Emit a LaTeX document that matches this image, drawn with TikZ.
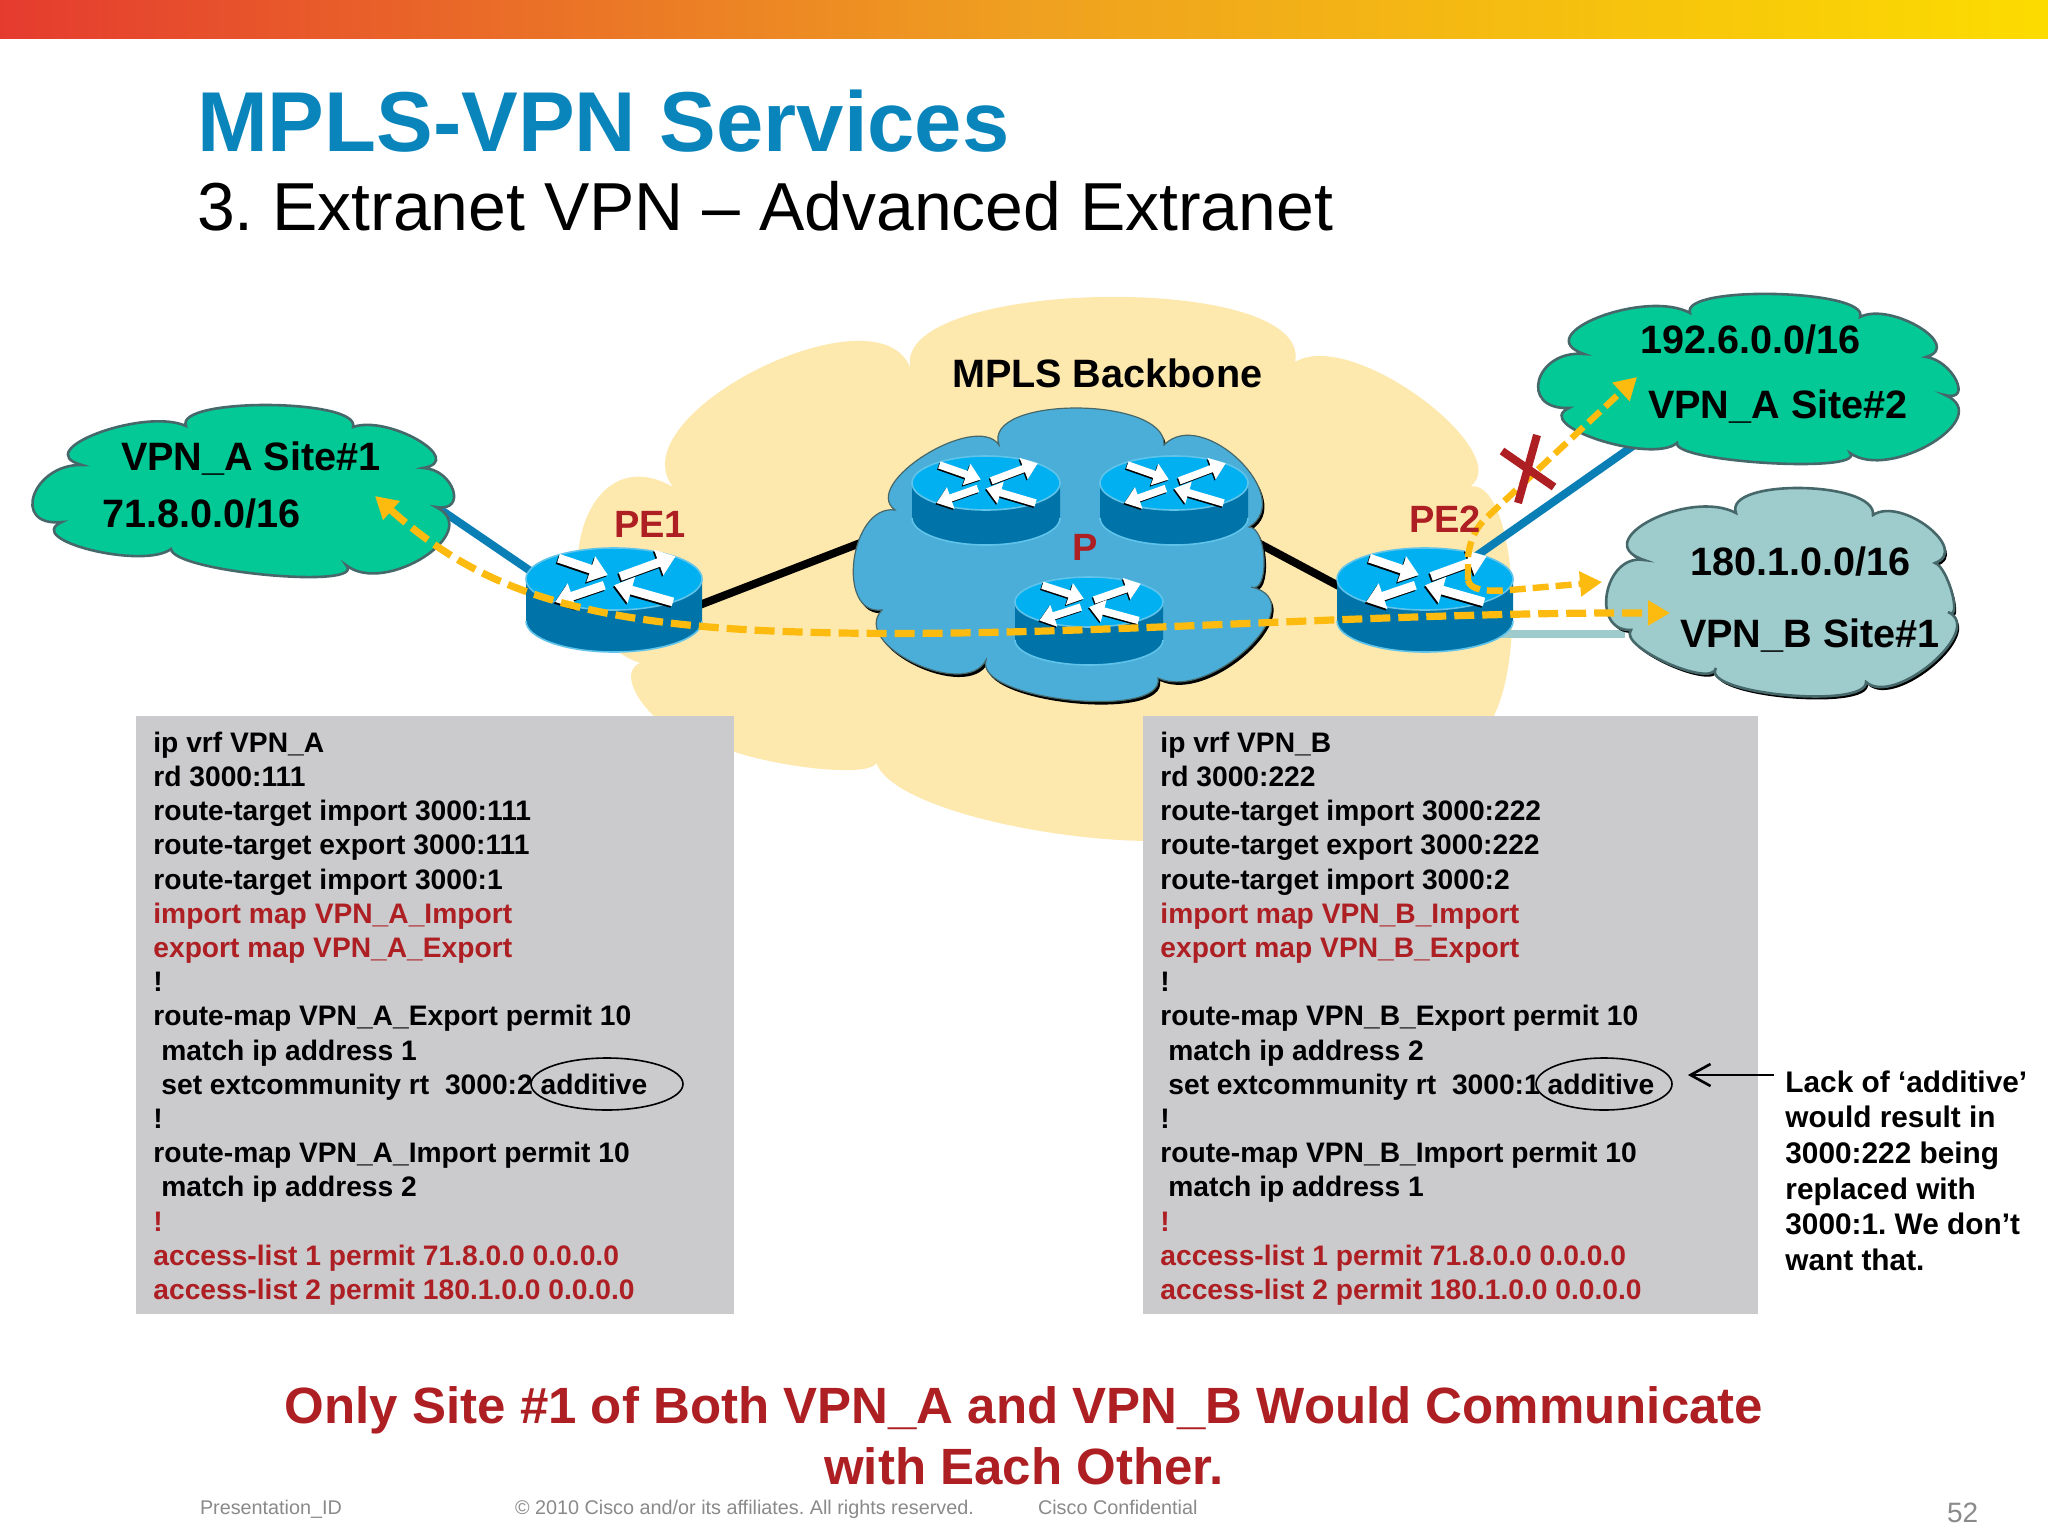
\documentclass[tikz,border=0pt]{standalone}
\usepackage{fontspec}
\setmainfont{Liberation Sans}
\usetikzlibrary{arrows.meta,shapes.geometric}
\definecolor{ciscoblue}{HTML}{0A85BC}
\definecolor{redtxt}{HTML}{AE1F23}
\definecolor{ygcloud}{HTML}{FDE8AE}
\definecolor{grcloud}{HTML}{03C996}
\definecolor{tlcloud}{HTML}{9ECBCB}
\definecolor{blcloud}{HTML}{4BAED8}
\definecolor{cloudedge}{HTML}{46686A}
\definecolor{rtop}{HTML}{00B0F0}
\definecolor{rside}{HTML}{0073A8}
\definecolor{redge}{HTML}{5FC3EA}
\definecolor{bluelink}{HTML}{0A7FB5}
\definecolor{dashor}{HTML}{FDBB0F}
\definecolor{boxgray}{HTML}{CBCACD}
\definecolor{footgray}{HTML}{8A8A8A}
\definecolor{barred}{HTML}{E53B2F}
\definecolor{barmid}{HTML}{EFA020}
\definecolor{baryel}{HTML}{FCDC00}
% closed outline of bumps: each list entry is  end-x/end-y/peak-x/peak-y
\newcommand{\bumpcloud}[4]{%
  \path[#1] (#2,#3)
  \foreach \ex/\ey/\px/\py [remember=\ex as \lx (initially #2), remember=\ey as \ly (initially #3),
     evaluate=\ex as \cax using {\lx+1.333*(\px-(\lx+\ex)/2)-0.06*(\ex-\lx)},
     evaluate=\ex as \cbx using {\ex+1.333*(\px-(\lx+\ex)/2)+0.06*(\ex-\lx)},
     evaluate=\ey as \cay using {\ly+1.333*(\py-(\ly+\ey)/2)-0.06*(\ey-\ly)},
     evaluate=\ey as \cby using {\ey+1.333*(\py-(\ly+\ey)/2)+0.06*(\ey-\ly)}] in {#4}
  { .. controls (\cax,\cay) and (\cbx,\cby) .. (\ex,\ey) } -- cycle;}
\newcommand{\rarrow}[5]{% scale, tail, head (unit ellipse)
  \pgfmathsetmacro{\lw}{4.4*#1}\pgfmathsetmacro{\tl}{9*#1}\pgfmathsetmacro{\tw}{13*#1}
  \draw[black,line width=\lw pt,-{Triangle[length=\tl pt,width=\tw pt]}] (#2-.015,#3+.05) -- (#4-.015,#5+.05);
  \draw[white,line width=\lw pt,-{Triangle[length=\tl pt,width=\tw pt]}] (#2,#3) -- (#4,#5);}
% name, cx, cy (top ellipse), rx, ry, side height
\newcommand{\router}[6]{%
  \pgfmathsetmacro{\rs}{#4/88}
  \fill[rside] (#2-#4,#3) -- ++(0,#6) arc[start angle=180,end angle=360,x radius=#4,y radius=-#5] -- (#2+#4,#3) -- cycle;
  \draw[redge,line width=.8pt] (#2-#4,#3+#6) arc[start angle=180,end angle=360,x radius=#4,y radius=-#5];
  \draw[fill=rtop,draw=redge,line width=.8pt] (#2,#3) ellipse[x radius=#4,y radius=#5];
  \begin{scope}[shift={(#2,#3)},xscale=#4,yscale=#5]
    \rarrow{\rs}{-.63}{-.67}{-.07}{-.13}
    \rarrow{\rs}{.07}{-.08}{.7}{-.73}
    \rarrow{\rs}{-.11}{.2}{-.67}{.74}
    \rarrow{\rs}{.67}{.74}{0}{.2}
  \end{scope}}
\tikzset{
  x=.5pt,y=-.5pt,
  txt/.style={anchor=base west,inner sep=0pt,outer sep=0pt},
  lab/.style={txt,font=\fontsize{19.8}{22}\selectfont\bfseries},
  rlab/.style={lab,text=redtxt,font=\fontsize{19}{22}\selectfont\bfseries},
  code/.style={anchor=north west,inner sep=0pt,align=left,font=\fontsize{14.1}{17.1}\selectfont\bfseries},
  foot/.style={txt,text=footgray,font=\fontsize{9.9}{11}\selectfont},
  hidden/.style={inner sep=0pt,outer sep=0pt,draw=none},
  dashy/.style={draw=dashor,line width=3.6pt,dash pattern=on 10pt off 4pt},
  head/.style={-{Triangle[length=11pt,width=12pt]}},
  wlink/.style={line width=4pt},
  site/.style={line width=1.3pt,draw=cloudedge},
  boxg/.style={fill=boxgray,draw=none},
}
\newcommand{\rt}[1]{\textcolor{redtxt}{#1}}
\begin{document}
\frenchspacing
\begin{tikzpicture}
\useasboundingbox (0,0) rectangle (2048,1536);
\fill[white] (0,0) rectangle (2048,1536);
\shade[left color=barred,right color=baryel,middle color=barmid] (0,0) rectangle (2048,39);
% invisible anchors for the connectors
\node[hidden,minimum width=88pt,minimum height=52pt] (PE1) at (614,600) {};
\node[hidden,minimum width=88pt,minimum height=52pt] (PE2) at (1425,600) {};
\node[hidden] (BB) at (1060,553) {};
\node[hidden] (SiteA1) at (245,490) {};
\node[hidden] (SiteA2) at (1750,380) {};
\node[hidden] (SiteB1) at (1785,590) {};
% yellow backbone cloud
\bumpcloud{fill=ygcloud}{911}{370}{1295/362/1100/297,1458/492/1430/405,1470/740/1512/590,1240/800/1400/790,875/756/1075/836,700/730/797/766,640/663/648/710,673/487/580/540,911/370/760/368}
% links
\draw[black,wlink] ([shift={(0,38)}]PE1.center) -- ([shift={(0,-87)}]BB.center);
\draw[black,wlink] ([shift={(0,32)}]PE2.center) -- ([shift={(140,-41)}]BB.center);
\draw[bluelink,wlink] ([shift={(0,28)}]PE1.center) -- ([shift={(155,-8)}]SiteA1.center);
\draw[bluelink,wlink] ([shift={(0,-8)}]PE2.center) -- ([shift={(-110,61)}]SiteA2.center);
\draw[tlcloud,wlink] ([shift={(0,34)}]PE2.center) -- ([shift={(-160,44)}]SiteB1.center);
% clouds
\bumpcloud{fill=black,shift={(2,3)}}{999}{445}{1164/445/1076/408,1249/527/1239/460,1251/587/1264/560,1158/678/1249/647,986/660/1070/700,882/610/914/663,895/510/854/560,999/445/925/455}
\bumpcloud{fill=blcloud,draw=cloudedge,line width=.6pt}{999}{445}{1164/445/1076/408,1249/527/1239/460,1251/587/1264/560,1158/678/1249/647,986/660/1070/700,882/610/914/663,895/510/854/560,999/445/925/455}
\bumpcloud{fill=grcloud,site}{186}{426}{353/427/268/405,423/468/418/440,436/507/453/490,346/565/424/557,171/549/268/575,62/522/91/550,82/465/34/495,186/426/98/433}
\bumpcloud{fill=grcloud,site}{1690}{313}{1860/317/1775/294,1926/357/1919/327,1945/395/1956/380,1850/453/1932/443,1677/443/1768/463,1569/408/1599/440,1584/354/1539/380,1690/313/1599/317}
\bumpcloud{fill=black,shift={(2,3)}}{1736}{513}{1873/515/1801/488,1935/563/1928/527,1948/612/1952/593,1866/682/1932/663,1716/668/1785/695,1631/630/1667/663,1644/560/1607/593,1736/513/1651/520}
\bumpcloud{fill=tlcloud,site}{1736}{513}{1873/515/1801/488,1935/563/1928/527,1948/612/1952/593,1866/682/1932/663,1716/668/1785/695,1631/630/1667/663,1644/560/1607/593,1736/513/1651/520}
% routers
\router{PE1}{614}{579}{88}{31}{42}
\router{PE2}{1425}{579}{88}{31}{42}
\router{P1}{986}{483}{74}{27}{35}
\router{P2}{1174}{483}{74}{27}{35}
\router{P3}{1089}{602}{74}{25}{38}
% gray boxes
\node[boxg,anchor=north west,minimum width=299pt,minimum height=299pt,inner sep=0pt] (boxL) at (136,716) {};
\node[boxg,anchor=north west,minimum width=307.5pt,minimum height=299pt,inner sep=0pt] (boxR) at (1143,716) {};
% dashed flows
\coordinate (flowA) at (375,496);
\coordinate (flowB) at (1670,613);
\coordinate (hook) at (1468,580);
\coordinate (flowC) at (1637,377);
\coordinate (flowD) at (1602,582);
\draw[dashy,{Triangle[length=11pt,width=12pt]}-{Triangle[length=11pt,width=12pt]}] (flowA) .. controls (470,580) and (560,625) .. (800,632) .. controls (1050,640) and (1350,612) .. (flowB);
\draw[dashy,head,line width=3.2pt,dash pattern=on 8pt off 3.5pt] (hook) -- (1468,557) .. controls (1470,540) and (1475,530) .. (1484,520) -- (flowC);
\draw[dashy,head,line width=3.2pt,dash pattern=on 8pt off 3.5pt] (hook) .. controls (1470,590) and (1485,592) .. (1510,590) -- (flowD);
% red X
\draw[redtxt,line width=4pt] (1502,451) -- (1554,487);
\draw[redtxt,line width=4pt] (1537,435) -- (1518,503);
% labels
\node[lab] (tBB) at (952,387) {MPLS Backbone};
\node[rlab] (tPE1) at (614,537) {PE1};
\node[rlab] (tPE2) at (1409,532) {PE2};
\node[rlab] (tP) at (1072,560) {P};
\node[lab] (t1) at (121,470) {VPN\_A Site\#1};
\node[lab] (t2) at (102,527) {71.8.0.0/16};
\node[lab] (t3) at (1640,353) {192.6.0.0/16};
\node[lab] (t4) at (1648,418) {VPN\_A Site\#2};
\node[lab] (t5) at (1690,575) {180.1.0.0/16};
\node[lab] (t6) at (1680,647) {VPN\_B Site\#1};
% title
\node[txt,text=ciscoblue,font=\fontsize{42.5}{48}\selectfont\bfseries] (title) at (197,151) {MPLS-VPN Services};
\node[txt,font=\fontsize{33.95}{40}\selectfont] (sub) at (197,230) {3. Extranet VPN – Advanced Extranet};
% code
\node[code] (codeL) at (153,731.5) {ip vrf VPN\_A\\rd 3000:111\\route-target import 3000:111\\route-target export 3000:111\\route-target import 3000:1\\\rt{import map VPN\_A\_Import}\\\rt{export map VPN\_A\_Export}\\!\\route-map VPN\_A\_Export permit 10\\\hspace{4pt}match ip address 1\\\hspace{4pt}set extcommunity rt\ \ 3000:2 additive\\!\\route-map VPN\_A\_Import permit 10\\\hspace{4pt}match ip address 2\\\rt{!}\\\rt{access-list 1 permit 71.8.0.0 0.0.0.0}\\\rt{access-list 2 permit 180.1.0.0 0.0.0.0}};
\node[code] (codeR) at (1160,731.5) {ip vrf VPN\_B\\rd 3000:222\\route-target import 3000:222\\route-target export 3000:222\\route-target import 3000:2\\\rt{import map VPN\_B\_Import}\\\rt{export map VPN\_B\_Export}\\!\\route-map VPN\_B\_Export permit 10\\\hspace{4pt}match ip address 2\\\hspace{4pt}set extcommunity rt\ \ 3000:1 additive\\!\\route-map VPN\_B\_Import permit 10\\\hspace{4pt}match ip address 1\\\rt{!}\\\rt{access-list 1 permit 71.8.0.0 0.0.0.0}\\\rt{access-list 2 permit 180.1.0.0 0.0.0.0}};
\node[draw=black,line width=.8pt,ellipse,minimum width=76pt,minimum height=26pt,inner sep=0pt] (addL) at (607,1084) {};
\node[draw=black,line width=.8pt,ellipse,minimum width=68pt,minimum height=26pt,inner sep=0pt] (addR) at (1604,1084) {};
\node[anchor=north west,inner sep=0pt,align=left,font=\fontsize{14.9}{17.85}\selectfont\bfseries] (note) at (1785,1070) {Lack of ‘additive’\\would result in\\3000:222 being\\replaced with\\3000:1. We don’t\\want that.};
\draw[line width=1.3pt,-{Straight Barb[length=10pt,width=11pt]}] ([shift={(-11,5)}]note.north west) -- ([shift={(15,-9)}]addR.east);
% bottom
\node[anchor=base,inner sep=0pt,align=center,text=redtxt,font=\fontsize{25.5}{30.5}\selectfont\bfseries] (concl) at (1024,1484) {Only Site \#1 of Both VPN\_A and VPN\_B Would Communicate\\with Each Other.};
\node[foot] (f1) at (200,1514) {Presentation\_ID};
\node[foot] (f2) at (515,1514) {© 2010 Cisco and/or its affiliates. All rights reserved.};
\node[foot] (f3) at (1038,1514) {Cisco Confidential};
\node[txt,text=footgray,font=\fontsize{14}{16}\selectfont] (pg) at (1947,1522) {52};
\end{tikzpicture}
\end{document}
